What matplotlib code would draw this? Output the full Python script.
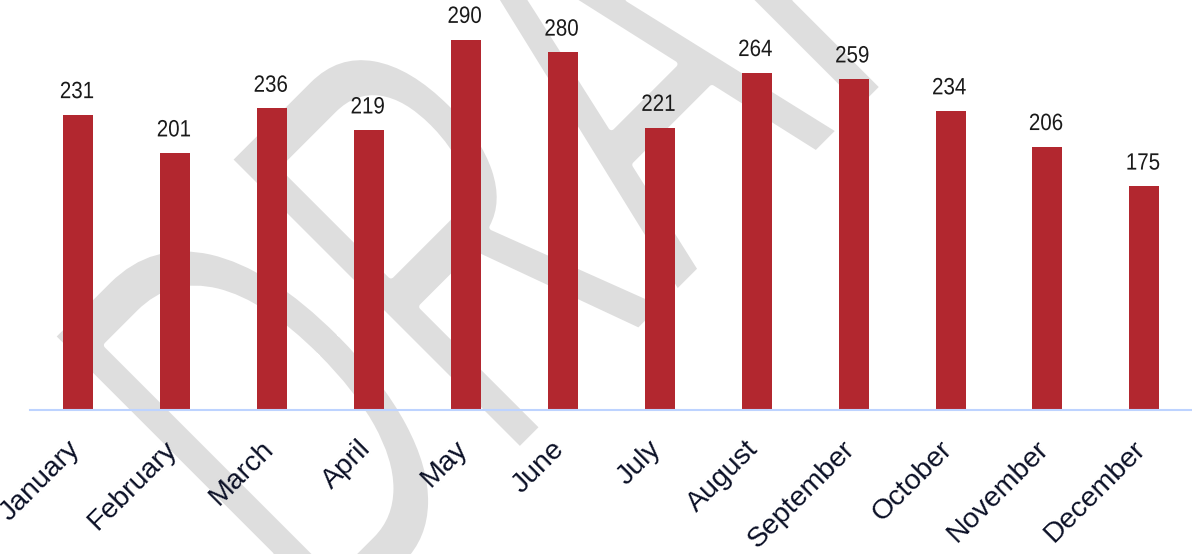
import numpy as np
import matplotlib
matplotlib.use("Agg")
import matplotlib.pyplot as plt
from matplotlib.patheffects import AbstractPathEffect
from matplotlib.transforms import Affine2D, ScaledTranslation

months = ["January", "February", "March", "April", "May", "June",
          "July", "August", "September", "October", "November", "December"]
values = [231, 201, 236, 219, 290, 280, 221, 264, 259, 234, 206, 175]
watermark = "DRAFT"

W, H = 1192, 554
fig = plt.figure(figsize=(W / 100, H / 100), dpi=100)


class Condense(AbstractPathEffect):
    """Draw text narrowed along its baseline (like a condensed face),
    optionally thinning the strokes with a white outline."""
    def __init__(self, sx, about="left", erode_px=0.0, bg="white"):
        super().__init__()
        self.sx = sx
        self.about = about
        self.erode_px = erode_px
        self.bg = bg

    def draw_path(self, renderer, gc, tpath, affine, rgbFace=None):
        cx = 0.0
        if self.about == "center":
            ext = tpath.get_extents()
            cx = ext.x0 + ext.width / 2
        t = Affine2D().translate(-cx, 0).scale(self.sx, 1).translate(cx, 0) + affine
        renderer.draw_path(gc, tpath, t, rgbFace)
        if self.erode_px > 0:
            gc2 = renderer.new_gc()
            gc2.copy_properties(gc)
            gc2.set_foreground(self.bg)
            gc2.set_linewidth(self.erode_px * 72.0 / 100.0)
            gc2.set_joinstyle("round")
            gc2.set_capstyle("round")
            renderer.draw_path(gc2, tpath, t, None)
            gc2.restore()


# ---- DRAFT watermark (behind the chart) ----
fig.text(322.9 / W, -93.1 / H, watermark, transform=fig.transFigure,
         fontsize=430, family="Liberation Sans", color="#DEDEDE",
         rotation=45, rotation_mode="anchor", ha="left", va="baseline",
         zorder=-5, path_effects=[Condense(0.58, erode_px=6)])

# ---- axes ----
ax = fig.add_axes([29.9 / W, (H - 409.5) / H, 1162.9 / W, 409.5 / H])
ax.set_facecolor("none")
x = np.arange(len(months))
ax.bar(x, values, width=0.31, color="#B2272F", zorder=2)
ax.set_xlim(-0.5, len(months) - 0.5)
ax.set_ylim(0, 321)

for xi, v in zip(x, values):
    ax.annotate(str(v), (xi, v), xytext=(-1, 12), textcoords="offset points",
                ha="center", va="baseline", fontsize=17, color="#1A1A1A",
                family="Liberation Sans",
                path_effects=[Condense(0.87, about="center")])

for s in ["top", "right", "left"]:
    ax.spines[s].set_visible(False)
ax.spines["bottom"].set_color("#BDD3FF")
ax.spines["bottom"].set_linewidth(1.5)
ax.set_yticks([])
ax.set_xticks(x)
ax.set_xticklabels(months, rotation=45, ha="right", fontsize=20.5,
                   color="#0B1026", family="Liberation Sans")
ax.tick_params(axis="x", length=0, pad=19)
off = ScaledTranslation(7 / 100, 0, fig.dpi_scale_trans)
for lab in ax.get_xticklabels():
    lab.set_transform(lab.get_transform() + off)

fig.savefig("out.png", dpi=100)
